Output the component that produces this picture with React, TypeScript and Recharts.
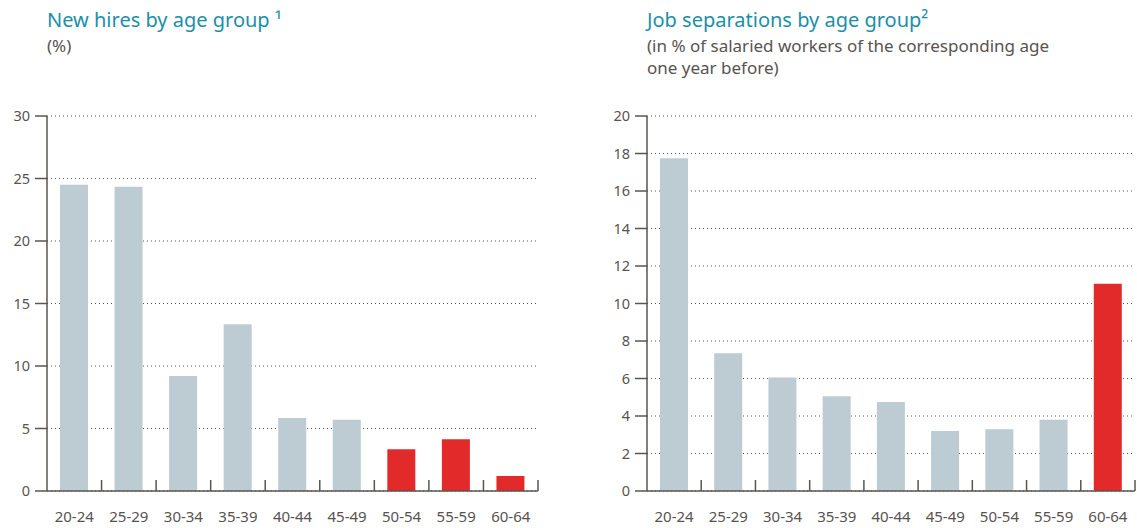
import React from 'react';
import { BarChart, Bar, XAxis, YAxis, CartesianGrid, Cell } from 'recharts';

const categories = ['20-24', '25-29', '30-34', '35-39', '40-44', '45-49', '50-54', '55-59', '60-64'];
const newHires = [24.5, 24.35, 9.2, 13.35, 5.85, 5.7, 3.35, 4.15, 1.2];
const separations = [17.75, 7.35, 6.05, 5.05, 4.75, 3.2, 3.3, 3.8, 11.05];
const newHiresHighlighted = ['50-54', '55-59', '60-64'];
const separationsHighlighted = ['60-64'];
const newHiresTicks = [0, 5, 10, 15, 20, 25, 30];
const separationsTicks = [0, 2, 4, 6, 8, 10, 12, 14, 16, 18, 20];

const GREY = '#bdcbd2';
const RED = '#e32a2b';
const AXIS = '#5a5550';
const TEXT = '#58534f';
const TEAL = '#1a8fa9';
const FONT = '"Noto Sans", "Open Sans", sans-serif';

const leftData = categories.map((c, i) => ({ cat: c, value: newHires[i] }));
const rightData = categories.map((c, i) => ({ cat: c, value: separations[i] }));

function makeTick(bandWidth: number) {
  return (props: any) => {
    const { x, y, payload } = props;
    const bx = x + bandWidth / 2;
    return (
      <g>
        <line x1={bx} x2={bx} y1={y} y2={y - 11} stroke={AXIS} strokeWidth={1.5} />
        <text x={x} y={y + 31} textAnchor="middle" fill={TEXT} fontSize={15} fontFamily={FONT}>
          {payload.value}
        </text>
      </g>
    );
  };
}

type PanelProps = {
  data: { cat: string; value: number }[];
  highlighted: string[];
  ticks: number[];
  max: number;
  width: number;
  marginRight: number;
};

function Panel({ data, highlighted, ticks, max, width, marginRight }: PanelProps) {
  const yAxisWidth = 47;
  const plotWidth = width - yAxisWidth - marginRight;
  const bandWidth = plotWidth / data.length;
  return (
    <BarChart
      width={width}
      height={528}
      data={data}
      margin={{ top: 116, right: marginRight, bottom: 0, left: 0 }}
    >
      <CartesianGrid vertical={false} stroke={AXIS} strokeDasharray="1 3" strokeWidth={1} />
      <XAxis
        dataKey="cat"
        height={37}
        tickLine={false}
        tickSize={0}
        tickMargin={0}
        axisLine={{ stroke: AXIS, strokeWidth: 1.5 }}
        tick={makeTick(bandWidth)}
        interval={0}
      />
      <YAxis
        width={yAxisWidth}
        domain={[0, max]}
        ticks={ticks}
        interval={0}
        tickSize={12}
        tickMargin={5}
        axisLine={{ stroke: AXIS, strokeWidth: 1.5 }}
        tickLine={{ stroke: AXIS, strokeWidth: 1.5 }}
        tick={{ fill: TEXT, fontSize: 14.5, fontFamily: FONT }}
      />
      <Bar dataKey="value" barSize={28} isAnimationActive={false}>
        {data.map((d) => (
          <Cell key={d.cat} fill={highlighted.includes(d.cat) ? RED : GREY} />
        ))}
      </Bar>
    </BarChart>
  );
}

export default function App() {
  return (
    <div style={{ position: 'absolute', left: 0, top: 0, width: 1137, height: 528, background: '#fff' }}>
      <div style={{ position: 'absolute', left: 0, top: 0 }}>
        <Panel data={leftData} highlighted={newHiresHighlighted} ticks={newHiresTicks} max={30} width={560} marginRight={22} />
      </div>
      <div style={{ position: 'absolute', left: 600, top: 0 }}>
        <Panel data={rightData} highlighted={separationsHighlighted} ticks={separationsTicks} max={20} width={537} marginRight={2} />
      </div>
      <svg width={1137} height={110} style={{ position: 'absolute', left: 0, top: 0 }}>
        <g fontFamily={FONT}>
          <text x={47} y={27} fill={TEAL} fontSize={20}>New hires by age group ¹</text>
          <text x={47} y={52} fill={TEXT} fontSize={17}>(%)</text>
          <text x={647} y={27} fill={TEAL} fontSize={20}>Job separations by age group²</text>
          <text x={647} y={52} fill={TEXT} fontSize={17}>(in % of salaried workers of the corresponding age</text>
          <text x={647} y={74} fill={TEXT} fontSize={17}>one year before)</text>
        </g>
      </svg>
    </div>
  );
}
